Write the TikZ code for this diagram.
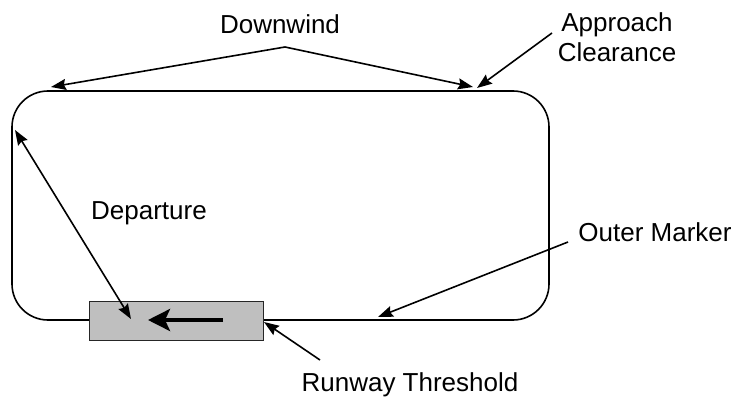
\documentclass[tikz,border=0pt]{standalone}
\usepackage{fontspec}
\setmainfont{Liberation Sans}
\usetikzlibrary{arrows.meta}
\begin{document}
\begin{tikzpicture}[x=1pt,y=-1pt,
  lbl/.style={font=\fontsize{26}{30}\selectfont, inner sep=0pt, align=center},
  ptr/.style={line width=1.6pt, -{Stealth[length=15pt,width=11pt,inset=2pt]}},
  circuit/.style={draw, line width=1.6pt, rounded corners=36pt},
  rwy/.style={draw=black!85, line width=1.4pt, fill=black!25}]
\useasboundingbox (0,0) rectangle (735,398);
% traffic circuit
\draw[circuit] (12,91) rectangle (549,320);
% runway
\node[rwy, minimum width=174pt, minimum height=39pt, inner sep=0pt, anchor=north west] (runway) at (89,301) {};
\coordinate (rwyA) at (223,320);
\coordinate (rwyB) at (148,320);
\draw[line width=4pt, -{Stealth[length=22pt,width=22pt,inset=5pt]}] (rwyA) -- (rwyB);
% labels
\node[lbl] (downwind) at (280,24) {Downwind};
\node[lbl] (approach) at (617,37) {Approach\\Clearance};
\node[lbl] (departure) at (149,213) {Departure};
\node[lbl] (outer) at (655,232) {Outer Marker};
\node[lbl] (threshold) at (410,385) {Runway Threshold};
% connector points
\coordinate (apex) at (285,47);
\coordinate (dwL) at (51,87);
\coordinate (dwR) at (473,87);
\coordinate (apS) at (552,33);
\coordinate (apT) at (477,88);
\coordinate (depT) at (15,130);
\coordinate (depB) at (131,319);
\coordinate (omS) at (568,242);
\coordinate (omT) at (378,317);
\coordinate (thS) at (320,360);
\coordinate (thT) at (264,322);
\draw[ptr] (apex) -- (dwL);
\draw[ptr] (apex) -- (dwR);
\draw[ptr] (apS) -- (apT);
\draw[ptr, {Stealth[length=15pt,width=11pt,inset=2pt]}-{Stealth[length=15pt,width=11pt,inset=2pt]}] (depT) -- (depB);
\draw[ptr] (omS) -- (omT);
\draw[ptr] (thS) -- (thT);
\end{tikzpicture}
\end{document}
